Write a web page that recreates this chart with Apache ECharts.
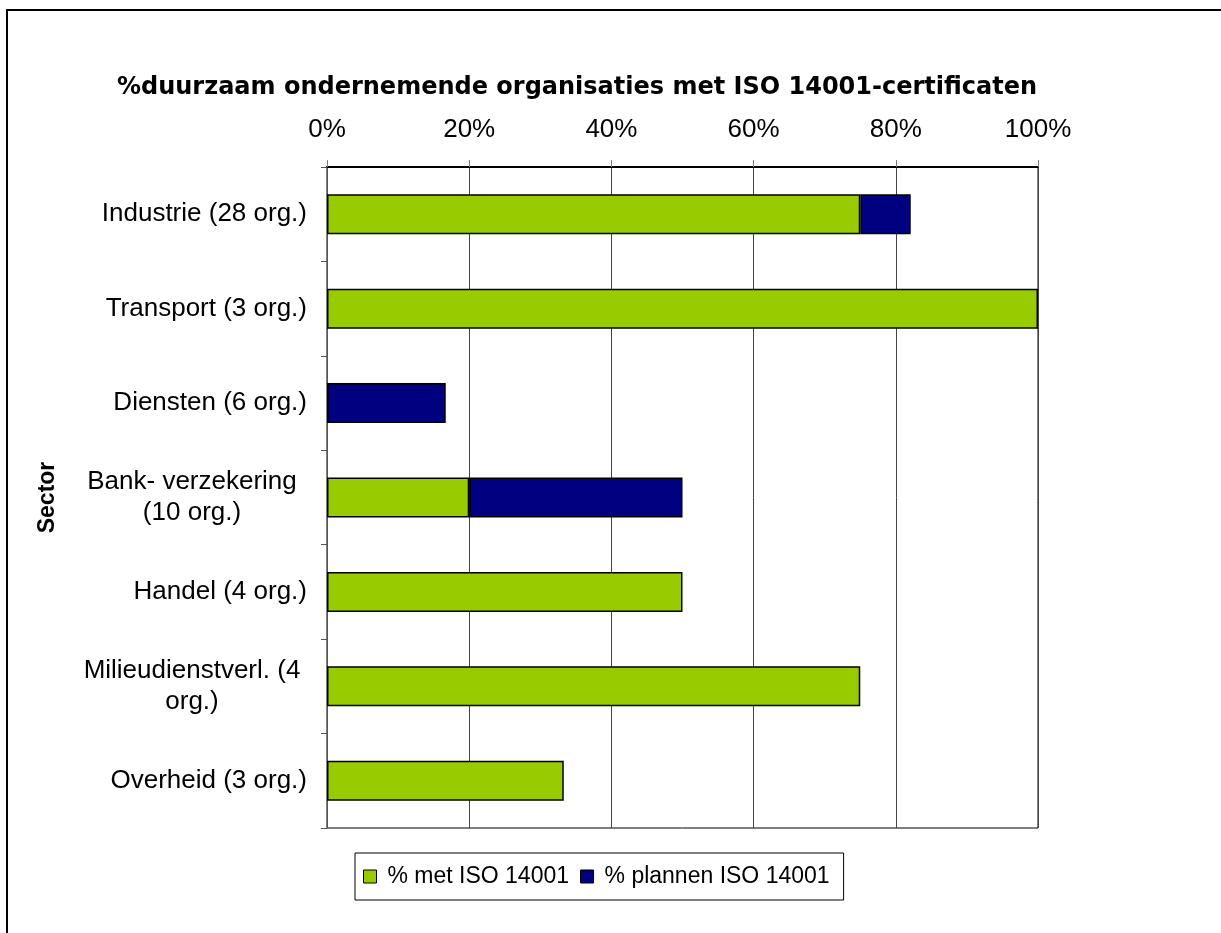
<!DOCTYPE html>
<html>
<head>
<meta charset="utf-8">
<script src="https://cdn.jsdelivr.net/npm/echarts@6/dist/echarts.min.js"></script>
<style>
  html, body { margin: 0; padding: 0; background: #fff; }
  #chart { width: 1221px; height: 933px; }
</style>
</head>
<body>
<div id="chart"></div>
<script>
// categorieën (van boven naar onder)
var sectors = [
    'Industrie (28 org.)',
    'Transport (3 org.)',
    'Diensten (6 org.)',
    'Bank- verzekering\n(10 org.)',
    'Handel (4 org.)',
    'Milieudienstverl. (4\norg.)',
    'Overheid (3 org.)'
];
// % met ISO 14001
var metISO = [75, 100, null, 20, 50, 75, 33.3];
// % plannen ISO 14001
var plannenISO = [7.1, null, 16.7, 30, null, null, null];

var chart = echarts.init(document.getElementById('chart'));

var option = {
    backgroundColor: '#fff',
    animation: false,
    textStyle: { fontFamily: 'Liberation Sans, Arial, sans-serif', color: '#000' },
    graphic: [{
        // rand om de hele grafiek
        type: 'rect',
        shape: { x: 7, y: 10, width: 1400, height: 1100 },
        style: { fill: 'none', stroke: '#000', lineWidth: 2 },
        silent: true
    }],
    title: {
        text: '%duurzaam ondernemende organisaties met ISO 14001-certificaten',
        left: 572,
        top: 71,
        textAlign: 'center',
        textStyle: {
            fontFamily: 'DejaVu Sans',
            fontWeight: 'bold',
            fontSize: 24,
            color: '#000'
        }
    },
    legend: {
        left: 355,
        top: 853,
        padding: [12, 14, 12, 8],
        borderColor: '#000',
        borderWidth: 1,
        itemWidth: 13,
        itemHeight: 13,
        itemGap: 11,
        icon: 'rect',
        itemStyle: { borderColor: '#000', borderWidth: 1 },
        textStyle: { fontSize: 23, color: '#000', padding: [0, 0, 0, 6], fontFamily: 'Liberation Sans, Arial, sans-serif' },
        data: ['% met ISO 14001', '% plannen ISO 14001']
    },
    grid: {
        left: 327,
        top: 167,
        right: 183,
        bottom: 105,
        show: true,
        borderColor: '#000',
        borderWidth: 1,
        containLabel: false
    },
    xAxis: {
        type: 'value',
        position: 'top',
        min: 0,
        max: 100,
        interval: 20,
        axisLine: { show: true, lineStyle: { color: '#000', width: 2 } },
        axisTick: { show: true, inside: false, length: 7, lineStyle: { color: '#808080' } },
        axisLabel: { formatter: '{value}%', fontSize: 26, color: '#000', margin: 24 },
        splitLine: { show: true, lineStyle: { color: '#444', width: 1 } }
    },
    yAxis: {
        type: 'category',
        inverse: true,
        data: sectors,
        name: 'Sector',
        nameLocation: 'middle',
        nameGap: 268,
        nameRotate: 90,
        nameTextStyle: { fontSize: 23, fontWeight: 'bold', color: '#000' },
        axisLine: { show: true, lineStyle: { color: '#555', width: 1 } },
        axisTick: { show: true, inside: false, length: 6, alignWithLabel: false, lineStyle: { color: '#555' } },
        axisLabel: {
            fontSize: 26,
            color: '#000',
            margin: 20,
            lineHeight: 31,
            // regels van labels over twee regels gecentreerd
            formatter: function (v) {
                if (v.indexOf('\n') < 0) return v;
                return v.split('\n').map(function (s) { return '{c|' + s + '}'; }).join('\n');
            },
            rich: {
                c: { width: 230, align: 'center', fontSize: 26, lineHeight: 31, color: '#000' }
            }
        }
    },
    series: [
        {
            name: '% met ISO 14001',
            type: 'bar',
            stack: 'totaal',
            barWidth: 40,
            data: metISO,
            itemStyle: { color: '#99CC00', borderColor: '#000', borderWidth: 1.5 }
        },
        {
            name: '% plannen ISO 14001',
            type: 'bar',
            stack: 'totaal',
            barWidth: 40,
            data: plannenISO,
            itemStyle: { color: '#000080', borderColor: '#000', borderWidth: 1.5 }
        }
    ]
};

chart.setOption(option);
</script>
</body>
</html>
